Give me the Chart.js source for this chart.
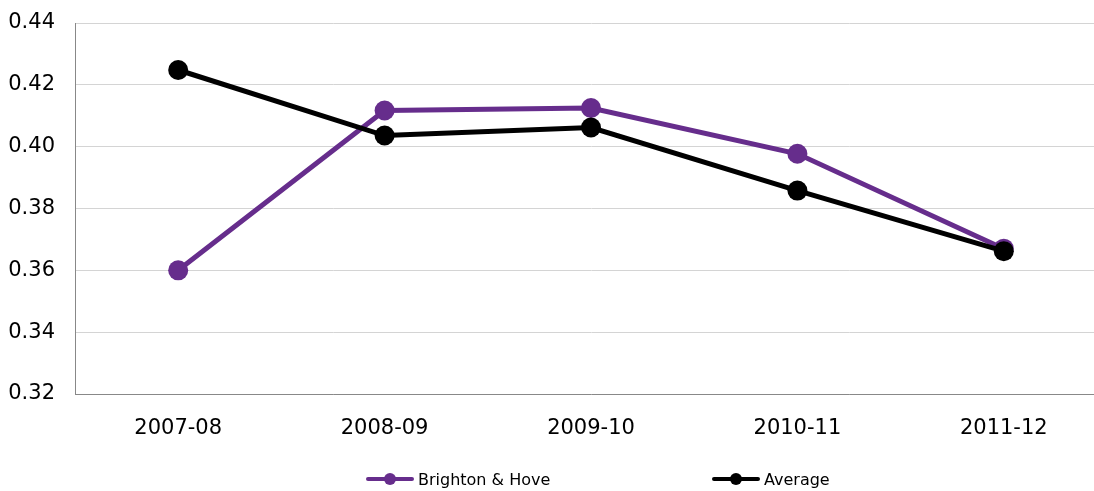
<!DOCTYPE html>
<html>
<head>
<meta charset="utf-8">
<script src="https://cdn.jsdelivr.net/npm/chart.js@4.4.0/dist/chart.umd.min.js"></script>
<style>
  html, body { margin:0; padding:0; background:#fff; overflow:hidden; }
  #wrap { position:relative; width:1094px; height:491px; overflow:hidden; }
  #holder { position:absolute; left:0; top:0; width:1110px; height:491px; }
  .lg { position:absolute; top:468px; height:22px; display:flex; align-items:center;
        font-family:"DejaVu Sans", Verdana, sans-serif; font-size:16px; color:#000; white-space:nowrap; }
  .mk { position:relative; width:48px; height:22px; margin-right:4px; }
  .mk .ln { position:absolute; left:0; right:0; top:9px; height:4px; border-radius:2px; }
  .mk .dt { position:absolute; left:18px; top:5px; width:12px; height:12px; border-radius:50%; }
</style>
</head>
<body>
<div id="wrap">
  <div id="holder"><canvas id="c" width="1110" height="491"></canvas></div>
  <div class="lg" style="left:366px;"><div class="mk"><div class="ln" style="background:#662d8c"></div><div class="dt" style="background:#662d8c"></div></div><span id="l1"></span></div>
  <div class="lg" style="left:712px;"><div class="mk"><div class="ln" style="background:#000"></div><div class="dt" style="background:#000"></div></div><span id="l2"></span></div>
</div>
<script>
const categories = ["2007-08", "2008-09", "2009-10", "2010-11", "2011-12"];
const seriesNames = ["Brighton & Hove", "Average"];
const brightonValues = [0.360, 0.4117, 0.4125, 0.3977, 0.3670];
const averageValues = [0.4248, 0.4036, 0.4062, 0.3858, 0.3662];
const yTicks = [0.32, 0.34, 0.36, 0.38, 0.40, 0.42, 0.44];

document.getElementById('l1').textContent = seriesNames[0];
document.getElementById('l2').textContent = seriesNames[1];

const PURPLE = '#662d8c';
const FONT = '"DejaVu Sans", Verdana, sans-serif';

new Chart(document.getElementById('c'), {
  type: 'line',
  data: {
    labels: categories,
    datasets: [
      { label: seriesNames[0], data: brightonValues, borderColor: PURPLE, backgroundColor: PURPLE,
        borderWidth: 5, pointRadius: 10, pointHoverRadius: 10, pointBorderWidth: 0, tension: 0, order: 1 },
      { label: seriesNames[1], data: averageValues, borderColor: '#000', backgroundColor: '#000',
        borderWidth: 5, pointRadius: 10, pointHoverRadius: 10, pointBorderWidth: 0, tension: 0, order: 0 }
    ]
  },
  options: {
    responsive: false,
    animation: false,
    layout: { autoPadding: false, padding: { left: 9, right: 3, top: 23, bottom: 50 } },
    plugins: { legend: { display: false }, tooltip: { enabled: false } },
    scales: {
      x: {
        offset: true,
        grid: { display: false, drawTicks: false },
        border: { display: true, color: '#888', width: 1 },
        ticks: { color: '#000', font: { family: FONT, size: 21 }, padding: 22, maxRotation: 0 },
        afterFit: (s) => { s.height = 47; s.paddingLeft = 0; s.paddingRight = 0; }
      },
      y: {
        min: 0.32, max: 0.44,
        afterBuildTicks: (axis) => { axis.ticks = yTicks.map(v => ({ value: v })); },
        grid: { color: '#d4d4d4', lineWidth: 1, drawTicks: false },
        border: { display: true, color: '#888', width: 1 },
        ticks: { color: '#000', font: { family: FONT, size: 21 }, padding: 20,
                 callback: (v) => Number(v).toFixed(2) },
        afterFit: (s) => { s.width = 66; s.paddingTop = 0; s.paddingBottom = 0; }
      }
    }
  }
});
</script>
</body>
</html>
